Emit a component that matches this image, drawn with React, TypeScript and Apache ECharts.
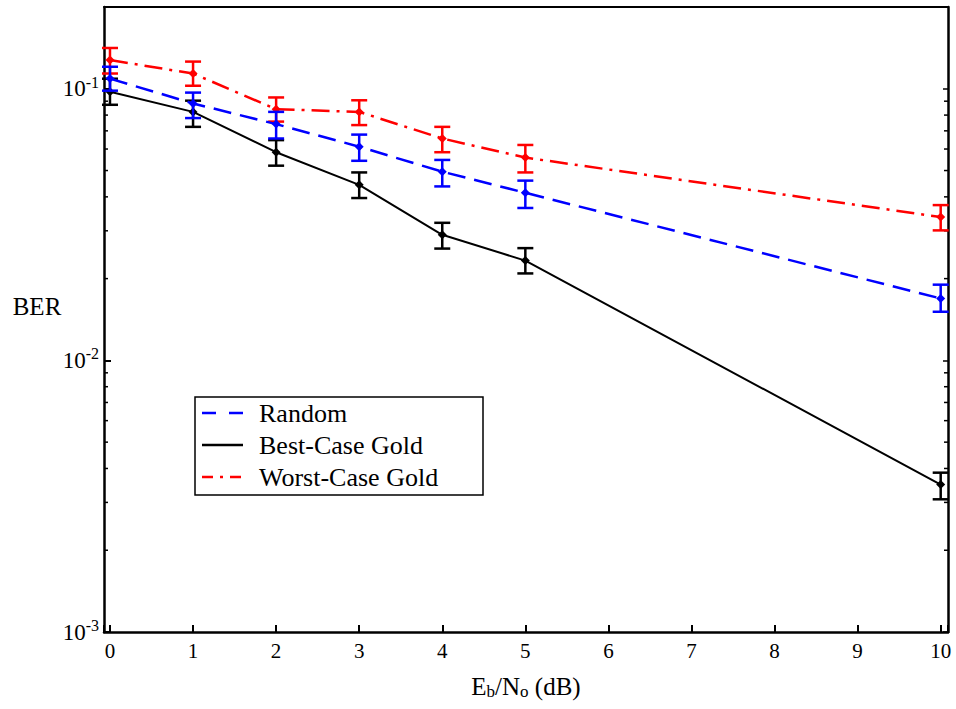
import React, { useEffect, useRef } from "react";
import * as echarts from "echarts";

const xValues = [0, 1, 2, 3, 4, 5, 10];

const randomBer = [0.109, 0.0883, 0.0741, 0.0612, 0.0495, 0.0414, 0.0169];
const randomLow = [0.0984, 0.078, 0.0656, 0.0543, 0.0437, 0.0364, 0.0151];
const randomHigh = [0.1205, 0.0968, 0.0822, 0.0678, 0.0547, 0.0459, 0.019];

const bestBer = [0.0975, 0.0822, 0.0584, 0.0443, 0.029, 0.0233, 0.00349];
const bestLow = [0.0873, 0.0724, 0.0521, 0.0396, 0.0258, 0.0209, 0.00308];
const bestHigh = [0.1089, 0.0904, 0.0647, 0.0492, 0.0321, 0.0259, 0.00386];

const worstBer = [0.1275, 0.1138, 0.0841, 0.0822, 0.0656, 0.0558, 0.0337];
const worstLow = [0.1138, 0.1026, 0.0757, 0.0735, 0.0584, 0.0492, 0.0301];
const worstHigh = [0.1413, 0.1259, 0.0929, 0.0907, 0.0724, 0.0621, 0.0373];

const minorTickValues = [
  0.002, 0.003, 0.004, 0.005, 0.006, 0.007, 0.008, 0.009,
  0.02, 0.03, 0.04, 0.05, 0.06, 0.07, 0.08, 0.09,
];

const seriesNames = ["Random", "Best-Case Gold", "Worst-Case Gold"];

const X_MIN = -0.072;
const X_MAX = 10.088;
const FONT = "Liberation Serif";

function errorBarSeries(
  name: string,
  low: number[],
  high: number[],
  color: string,
  z: number
) {
  return {
    type: "custom",
    name: name + " err",
    z,
    silent: true,
    data: xValues.map((x, i) => [x, low[i], high[i]]),
    encode: { x: 0, y: [1, 2] },
    renderItem: (params: any, api: any) => {
      const x = api.value(0);
      const lo = api.coord([x, api.value(1)]);
      const hi = api.coord([x, api.value(2)]);
      const w = 8;
      const style = { stroke: color, lineWidth: 2.5 };
      return {
        type: "group",
        children: [
          { type: "line", shape: { x1: lo[0], y1: lo[1], x2: hi[0], y2: hi[1] }, style },
          { type: "line", shape: { x1: lo[0] - w, y1: lo[1], x2: lo[0] + w, y2: lo[1] }, style },
          { type: "line", shape: { x1: hi[0] - w, y1: hi[1], x2: hi[0] + w, y2: hi[1] }, style },
        ],
      };
    },
  };
}

function lineSeries(name: string, values: number[], color: string, dash: any, width: number, z: number) {
  return {
    type: "line",
    name,
    z,
    data: xValues.map((x, i) => [x, values[i]]),
    symbol: "diamond",
    symbolSize: 9,
    showSymbol: true,
    itemStyle: { color },
    lineStyle: { color, width, type: dash },
  };
}

export default function App() {
  const ref = useRef<HTMLDivElement>(null);

  useEffect(() => {
    document.body.style.margin = "0";
    if (!ref.current) return;
    const chart = echarts.init(ref.current, undefined, { renderer: "svg" });

    const legendRows = [
      { name: seriesNames[0], color: "#0000ff", dash: [14, 13] },
      { name: seriesNames[1], color: "#000000", dash: null },
      { name: seriesNames[2], color: "#ff0000", dash: [11, 7, 3, 7] },
    ];

    const legendChildren: any[] = [
      {
        type: "rect",
        shape: { x: 195, y: 397, width: 288, height: 98 },
        style: { fill: "#ffffff", stroke: "#000000", lineWidth: 1.5 },
      },
    ];
    legendRows.forEach((r, i) => {
      const y = 413 + i * 32;
      legendChildren.push({
        type: "line",
        shape: { x1: 202, y1: y, x2: 243, y2: y },
        style: { stroke: r.color, lineWidth: 2.5, lineDash: r.dash || undefined },
      });
      legendChildren.push({
        type: "text",
        x: 259,
        y,
        style: {
          text: r.name,
          fontFamily: FONT,
          fontSize: 26,
          fill: "#000000",
          verticalAlign: "middle",
        },
      });
    });

    const option: any = {
      animation: false,
      backgroundColor: "#ffffff",
      textStyle: { fontFamily: FONT },
      grid: { left: 104, right: 8, top: 7, bottom: 77, containLabel: false },
      xAxis: [
        {
          type: "value",
          min: X_MIN,
          max: X_MAX,
          splitNumber: 10,
          minInterval: 1,
          maxInterval: 1,
          axisLine: { show: true, onZero: false, lineStyle: { color: "#000", width: 2.5 } },
          axisTick: { show: true, inside: true, length: 7, lineStyle: { color: "#000", width: 2 } },
          splitLine: { show: false },
          axisLabel: {
            color: "#000",
            fontFamily: FONT,
            fontSize: 21,
            margin: 8,
            formatter: (v: number) => (Math.abs(v - Math.round(v)) < 1e-6 ? String(Math.round(v)) : ""),
          },
          name: "{n|E}{sub|b}{n|/N}{sub|o}{n| (dB)}",
          nameLocation: "middle",
          nameGap: 41,
          nameTextStyle: {
            rich: {
              n: { fontFamily: FONT, fontSize: 25, color: "#000" },
              sub: { fontFamily: FONT, fontSize: 17, color: "#000", padding: [10, 0, 0, 0] },
            },
          },
        },
        {
          type: "value",
          position: "top",
          min: X_MIN,
          max: X_MAX,
          axisLine: { show: true, onZero: false, lineStyle: { color: "#000", width: 2 } },
          axisTick: { show: false },
          axisLabel: { show: false },
          splitLine: { show: false },
        },
      ],
      yAxis: [
        {
          type: "log",
          logBase: 10,
          min: 0.001,
          max: 0.2,
          axisLine: { show: true, onZero: false, lineStyle: { color: "#000", width: 2.5 } },
          axisTick: { show: true, inside: true, length: 7, lineStyle: { color: "#000", width: 2 } },
          splitLine: { show: false },
          minorTick: { show: false },
          axisLabel: {
            color: "#000",
            margin: 5,
            formatter: (v: number) => {
              const e = Math.log10(v);
              if (Math.abs(e - Math.round(e)) > 1e-6) return "";
              return `{b|10}{s|${Math.round(e)}}`;
            },
            rich: {
              b: { fontFamily: FONT, fontSize: 23, color: "#000" },
              s: { fontFamily: FONT, fontSize: 16, color: "#000", padding: [0, 0, 13, 0] },
            },
          },
        },
        {
          type: "log",
          logBase: 10,
          position: "right",
          min: 0.001,
          max: 0.2,
          axisLine: { show: true, onZero: false, lineStyle: { color: "#000", width: 2.5 } },
          axisTick: { show: true, inside: true, length: 5, lineStyle: { color: "#000", width: 1.5 } },
          axisLabel: { show: false },
          splitLine: { show: false },
        },
      ],
      series: [
        {
          type: "custom",
          name: "minor ticks",
          silent: true,
          z: 1,
          data: minorTickValues.map((v) => [X_MIN, v]),
          encode: { x: 0, y: 1 },
          renderItem: (params: any, api: any) => {
            const v = api.value(1);
            const l = api.coord([X_MIN, v]);
            const r = api.coord([X_MAX, v]);
            const style = { stroke: "#000", lineWidth: 1.5 };
            return {
              type: "group",
              children: [
                { type: "line", shape: { x1: l[0], y1: l[1], x2: l[0] + 4, y2: l[1] }, style },
                { type: "line", shape: { x1: r[0] - 4, y1: r[1], x2: r[0], y2: r[1] }, style },
              ],
            };
          },
        },
        lineSeries(seriesNames[1], bestBer, "#000000", "solid", 2, 2),
        errorBarSeries(seriesNames[1], bestLow, bestHigh, "#000000", 2),
        lineSeries(seriesNames[2], worstBer, "#ff0000", [18, 7, 3, 7], 2.5, 3),
        errorBarSeries(seriesNames[2], worstLow, worstHigh, "#ff0000", 3),
        lineSeries(seriesNames[0], randomBer, "#0000ff", [18, 9], 2.5, 4),
        errorBarSeries(seriesNames[0], randomLow, randomHigh, "#0000ff", 4),
      ],
      graphic: [
        {
          type: "text",
          x: 37,
          y: 306,
          style: {
            text: "BER",
            fontFamily: FONT,
            fontSize: 25,
            fill: "#000",
            align: "center",
            verticalAlign: "middle",
          },
        },
        { type: "group", z: 100, children: legendChildren },
      ],
    };

    chart.setOption(option);
    return () => chart.dispose();
  }, []);

  return <div ref={ref} style={{ width: 956, height: 709 }} />;
}
